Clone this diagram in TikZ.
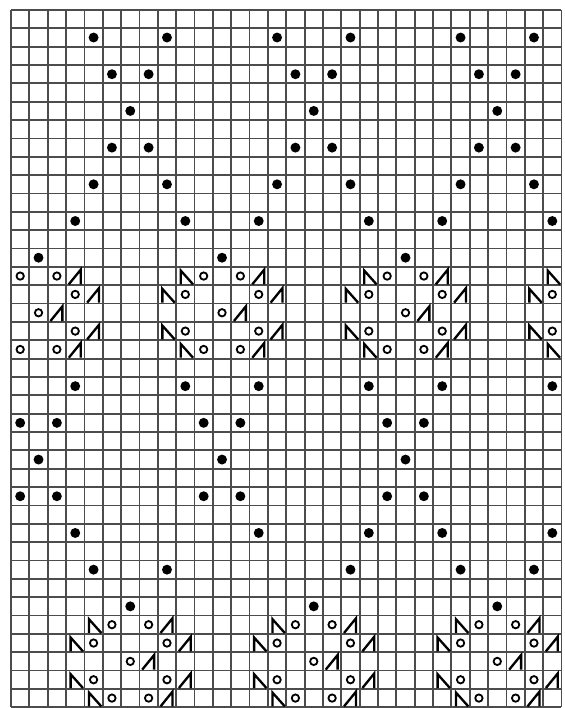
\documentclass[tikz,border=0pt]{standalone}
\usepackage{tikz}

\begin{document}
\begin{tikzpicture}[x=0.5cm, y=-0.5cm,
  gridline/.style={black!70, line width=1.4pt},
  bobble/.style={fill=black},
  yarnover/.style={draw=black, line width=1.4pt},
  decrease/.style={draw=black, line width=1.8pt, line join=miter}]

\useasboundingbox (-0.6, -0.545) rectangle (30.14, 38.04);

% --- Grid: 30 stitches, 38 rows ---
\foreach \x in {0,...,30} {
  \draw[gridline] (\x, 0) -- (\x, 38);
}
\foreach \y in {0,...,38} {
  \draw[gridline] (0, \y) -- (30, \y);
}

% --- Bobbles, upper diamonds ---
\foreach \m in {0,10,20} {
  \foreach \c/\r in {4/1, 8/1, 5/3, 7/3, 6/5, 5/7, 7/7, 4/9, 8/9, 3/11, 9/11, 1/13} {
    \fill[bobble] ({\m+\c+.5}, {\r+.5}) circle (0.27);
  }
}

% --- Bobbles, lower diamonds ---
\foreach \r/\cols in {20/{3,9,13,19,23,29}, 22/{0,2,10,12,20,22}, 24/{1,11,21},
                      26/{0,2,10,12,20,22}, 28/{3,13,19,23,29}, 30/{4,8,18,24,28},
                      32/{6,16,26}} {
  \foreach \c in \cols {
    \fill[bobble] (\c+.5, \r+.5) circle (0.27);
  }
}

% --- Lace panels: yarn overs, k2tog, ssk ---
\begin{scope}
\clip (0, 0) rectangle (30, 38);
\foreach \m/\r in {-5/14, 5/14, 15/14, 25/14, 0/33, 10/33, 20/33} {
  \foreach \c/\d in {5/0, 7/0, 4/1, 8/1, 6/2, 4/3, 8/3, 5/4, 7/4} {
    \draw[yarnover] ({\m+\c+.5}, {\r+\d+.5}) circle (0.2);
  }
  % k2tog
  \foreach \c/\d in {8/0, 9/1, 7/2, 9/3, 8/4} {
    \draw[decrease] ({\m+\c+.15}, {\r+\d+.95}) -- ++(0.65, -0.8) -- ++(0, 0.8);
  }
  % ssk
  \foreach \c/\d in {4/0, 3/1, 3/3, 4/4} {
    \draw[decrease] ({\m+\c+.25}, {\r+\d+.95}) -- ++(0, -0.75) -- ++(0.67, 0.75);
  }
}
\end{scope}

\end{tikzpicture}
\end{document}
